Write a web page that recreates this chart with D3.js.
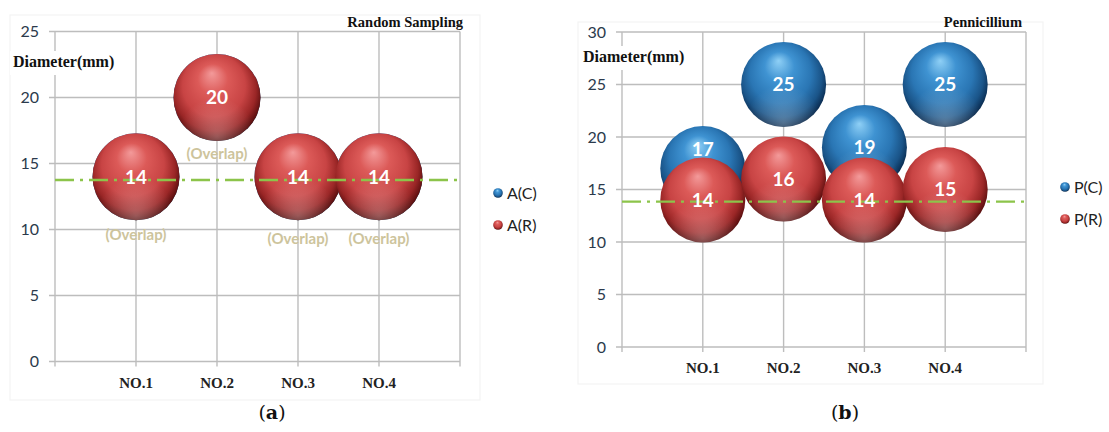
<!DOCTYPE html>
<html>
<head>
<meta charset="utf-8">
<script src="https://cdn.jsdelivr.net/npm/d3@7"></script>
<style>
  html, body { margin: 0; padding: 0; background: #fff; }
  svg { display: block; }
</style>
</head>
<body>
<svg id="chart" width="1109" height="432"></svg>
<script>
// ---------- data ----------
const categories = ["NO.1", "NO.2", "NO.3", "NO.4"];
const panelA_C = [14, 20, 14, 14];   // hidden underneath A(R) (overlap)
const panelA_R = [14, 20, 14, 14];
const panelA_notes = ["(Overlap)", "(Overlap)", "(Overlap)", "(Overlap)"];
const panelA_ticks = [0, 5, 10, 15, 20, 25];
const panelA_reference = 13.75;

const panelB_C = [17, 25, 19, 25];
const panelB_R = [14, 16, 14, 15];
const panelB_ticks = [0, 5, 10, 15, 20, 25, 30];
const panelB_reference = 13.85;

// ---------- drawing ----------
const svg = d3.select("#chart");
const defs = svg.append("defs");

function sphereGradient(id, stops) {
  const g = defs.append("radialGradient").attr("id", id)
    .attr("cx", "0.48").attr("cy", "0.45").attr("r", "0.58")
    .attr("fx", "0.44").attr("fy", "0.22");
  stops.forEach(s => g.append("stop").attr("offset", s[0]).attr("stop-color", s[1]));
}
sphereGradient("gRed", [["0%", "#f39a9a"], ["30%", "#dc5a58"], ["62%", "#c84444"], ["82%", "#9a2626"], ["94%", "#5e1010"], ["100%", "#3e0707"]]);
sphereGradient("gBlue", [["0%", "#8fd0f6"], ["30%", "#3f93d2"], ["62%", "#2a76b4"], ["82%", "#1a5488"], ["94%", "#0b2f55"], ["100%", "#051d38"]]);
const glow = defs.append("radialGradient").attr("id", "gGlow")
  .attr("cx", "0.5").attr("cy", "0.95").attr("r", "0.45");
glow.append("stop").attr("offset", "0%").attr("stop-color", "#fff").attr("stop-opacity", 0.28);
glow.append("stop").attr("offset", "100%").attr("stop-color", "#fff").attr("stop-opacity", 0);

const tickFont = "Lato, 'Open Sans', sans-serif";
const serif = "'Liberation Serif', 'Times New Roman', serif";

function drawPanel(cfg) {
  const g = svg.append("g");
  const x = d3.scaleLinear().domain([0, categories.length + 1]).range([cfg.left, cfg.right]);
  const y = d3.scaleLinear().domain([0, d3.max(cfg.ticks)]).range([cfg.bottom, cfg.top]);

  // faint chart frame
  g.append("rect").attr("x", cfg.frame[0]).attr("y", cfg.frame[1])
    .attr("width", cfg.frame[2]).attr("height", cfg.frame[3])
    .attr("fill", "none").attr("stroke", "#f3f3f3").attr("stroke-width", 1.2);

  // horizontal grid
  g.append("g").selectAll("line").data(cfg.ticks).join("line")
    .attr("x1", cfg.left - 6).attr("x2", cfg.right)
    .attr("y1", d => y(d)).attr("y2", d => y(d))
    .attr("stroke", "#bdbdbd").attr("stroke-width", 1.4);
  // vertical grid (category positions and edges)
  const vlines = d3.range(0, categories.length + 2);
  g.append("g").selectAll("line").data(vlines).join("line")
    .attr("x1", d => x(d)).attr("x2", d => x(d))
    .attr("y1", cfg.top).attr("y2", cfg.bottom + 5)
    .attr("stroke", "#bdbdbd").attr("stroke-width", 1.4);

  // y tick labels
  g.append("g").selectAll("text").data(cfg.ticks).join("text")
    .attr("x", cfg.left - 16).attr("y", d => y(d))
    .attr("dy", "0.36em").attr("text-anchor", "end")
    .attr("font-family", tickFont).attr("font-size", 16)
    .attr("fill", "#2b3a4c").text(d => d);

  // category labels
  g.append("g").selectAll("text").data(categories).join("text")
    .attr("x", (d, i) => x(i + 1)).attr("y", cfg.bottom + 26)
    .attr("text-anchor", "middle")
    .attr("font-family", serif).attr("font-weight", "bold").attr("font-size", 15)
    .attr("fill", "#222").text(d => d);

  // y axis title with white backing
  g.append("rect").attr("x", cfg.ytitleX - 3).attr("y", cfg.ytitleY - 16)
    .attr("width", 110).attr("height", 24).attr("fill", "#fff");
  g.append("text").attr("x", cfg.ytitleX).attr("y", cfg.ytitleY)
    .attr("font-family", serif).attr("font-weight", "bold").attr("font-size", 16)
    .attr("fill", "#111").text("Diameter(mm)");

  // chart title
  g.append("text").attr("x", cfg.titleX).attr("y", 27).attr("text-anchor", "end")
    .attr("font-family", serif).attr("font-weight", "bold").attr("font-size", 14.5)
    .attr("fill", "#111").text(cfg.title);

  // bubbles
  cfg.series.forEach(s => {
    const nodes = g.append("g").selectAll("g").data(s.values).join("g")
      .attr("transform", (d, i) => `translate(${x(i + 1)},${y(d)})`);
    nodes.append("circle").attr("r", cfg.radius).attr("fill", `url(#${s.grad})`);
    nodes.append("circle").attr("r", cfg.radius).attr("fill", "url(#gGlow)");
  });

  // reference line
  g.append("line").attr("x1", cfg.left).attr("x2", cfg.right)
    .attr("y1", y(cfg.reference)).attr("y2", y(cfg.reference))
    .attr("stroke", "#8cc44a").attr("stroke-width", 2.4)
    .attr("stroke-dasharray", "19,6,3,6");

  // bubble value labels (on top of everything)
  cfg.series.filter(s => s.showLabels).forEach(s => {
    g.append("g").selectAll("text").data(s.values).join("text")
      .attr("x", (d, i) => x(i + 1))
      .attr("y", (d, i) => y(d) + (s.labelShift ? s.labelShift[i] : 0))
      .attr("dy", "0.36em").attr("text-anchor", "middle")
      .attr("font-family", tickFont).attr("font-weight", "bold").attr("font-size", 19)
      .attr("fill", "#fff").text(d => d);
  });

  // notes
  if (cfg.notes) {
    g.append("g").selectAll("text").data(cfg.notes).join("text")
      .attr("x", (d, i) => x(i + 1))
      .attr("y", (d, i) => y(cfg.noteValues[i]) + cfg.noteOffsets[i])
      .attr("dy", "0.36em").attr("text-anchor", "middle")
      .attr("font-family", tickFont).attr("font-weight", "bold").attr("font-size", 15)
      .attr("fill", "#cdc49c").text(d => d);
  }

  // legend
  const lg = g.append("g");
  cfg.legend.forEach((l, i) => {
    const ly = cfg.legendY + i * 32;
    lg.append("circle").attr("cx", cfg.legendX).attr("cy", ly).attr("r", 4.8)
      .attr("fill", `url(#${l.grad})`);
    lg.append("text").attr("x", cfg.legendX + 9).attr("y", ly).attr("dy", "0.36em")
      .attr("font-family", tickFont).attr("font-size", 16).attr("fill", "#222").text(l.name);
  });
}

drawPanel({
  left: 55, right: 460, top: 31.5, bottom: 361.5,
  frame: [10, 15, 470, 385],
  ticks: panelA_ticks, reference: panelA_reference, radius: 43.5,
  ytitleX: 13, ytitleY: 67, title: "Random Sampling", titleX: 463,
  series: [
    { values: panelA_C, grad: "gBlue", showLabels: false },
    { values: panelA_R, grad: "gRed", showLabels: true }
  ],
  notes: panelA_notes, noteValues: panelA_R, noteOffsets: [58, 56, 62, 62],
  legend: [{ name: "A(C)", grad: "gBlue" }, { name: "A(R)", grad: "gRed" }],
  legendX: 498, legendY: 193
});

drawPanel({
  left: 622, right: 1026, top: 32, bottom: 347,
  frame: [578, 22, 465, 362],
  ticks: panelB_ticks, reference: panelB_reference, radius: 42.5,
  ytitleX: 583, ytitleY: 62, title: "Pennicillium", titleX: 1022,
  series: [
    { values: panelB_C, grad: "gBlue", showLabels: true, labelShift: [-19, 0, 0, 0] },
    { values: panelB_R, grad: "gRed", showLabels: true }
  ],
  legend: [{ name: "P(C)", grad: "gBlue" }, { name: "P(R)", grad: "gRed" }],
  legendX: 1065, legendY: 187
});

// captions
function caption(cx, letter) {
  const t = svg.append("text").attr("x", cx).attr("y", 419).attr("text-anchor", "middle")
    .attr("font-family", "'DejaVu Serif', serif").attr("font-size", 19).attr("fill", "#111");
  t.append("tspan").text("(");
  t.append("tspan").attr("font-weight", "bold").text(letter);
  t.append("tspan").text(")");
}
caption(272, "a");
caption(845, "b");
</script>
</body>
</html>
